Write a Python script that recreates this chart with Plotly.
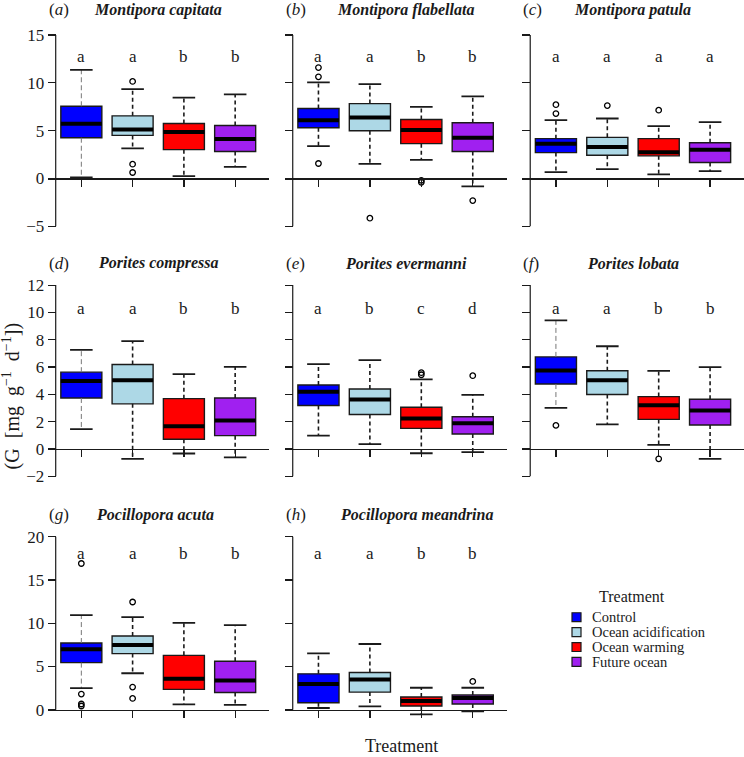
import plotly.graph_objects as go

# ---------------- data ----------------
treatments = ["Control", "Ocean acidification", "Ocean warming", "Future ocean"]
colors = ["#0000FF", "#ADD8E6", "#FF0000", "#A020F0"]
panel_tags = ["a", "b", "c", "d", "e", "f", "g", "h"]
species = ["Montipora capitata", "Montipora flabellata", "Montipora patula",
           "Porites compressa", "Porites evermanni", "Porites lobata",
           "Pocillopora acuta", "Pocillopora meandrina"]

lower_whisker = [[0.10, 3.15, 0.24, 1.21], [3.39, 1.52, 1.94, -0.83], [0.66, 0.97, 0.42, 0.76],
                 [1.45, -0.73, -0.34, -0.63], [0.97, 0.34, -0.32, -0.24], [3.01, 1.79, 0.29, -0.73],
                 [2.49, 4.21, 0.61, 0.54], [0.19, 0.38, -0.54, -0.19]]
q1 = [[4.26, 4.50, 3.01, 2.81], [5.30, 4.99, 3.64, 2.81], [2.70, 2.42, 2.36, 1.66],
      [3.73, 3.30, 0.70, 0.97], [3.18, 2.52, 1.50, 1.09], [4.75, 3.98, 2.16, 1.75],
      [5.44, 6.48, 2.34, 1.99], [0.80, 2.03, 0.42, 0.65]]
median = [[5.72, 5.13, 4.85, 4.12], [6.10, 6.37, 5.06, 4.26], [3.64, 3.29, 2.74, 3.01],
          [4.97, 5.02, 1.65, 2.08], [4.19, 3.61, 2.23, 1.87], [5.75, 5.02, 3.20, 2.81],
          [6.97, 7.47, 3.56, 3.37], [2.95, 3.49, 1.00, 1.34]]
q3 = [[7.55, 6.55, 5.75, 5.54], [7.31, 7.83, 6.17, 5.82], [4.16, 4.30, 4.16, 3.74],
      [5.62, 6.18, 3.68, 3.73], [4.68, 4.39, 3.05, 2.35], [6.74, 5.72, 3.83, 3.64],
      [7.70, 8.51, 6.28, 5.59], [4.14, 4.29, 1.46, 1.69]]
upper_whisker = [[11.36, 9.35, 8.45, 8.80], [10.05, 9.87, 7.48, 8.59], [6.10, 6.27, 5.47, 5.89],
                 [7.25, 7.90, 5.48, 6.01], [6.21, 6.50, 5.09, 3.95], [9.41, 7.52, 5.72, 5.99],
                 [10.92, 10.69, 10.04, 9.77], [6.51, 7.59, 2.53, 2.53]]
outliers = [[[], [10.15, 1.49, 0.62], [], []],
            [[11.6, 10.63, 1.56], [-4.16], [-0.2, -0.4], [-2.32]],
            [[7.72, 6.79], [7.62], [7.14], []],
            [[], [], [], []],
            [[], [], [5.58, 5.43], [5.36]],
            [[1.72], [], [-0.73], []],
            [[16.9, 1.80, 0.65, 0.42], [12.45, 2.61, 1.30], [], []],
            [[], [], [], [3.26]]]
letters = [["a", "a", "b", "b"], ["a", "a", "b", "b"], ["a", "a", "a", "a"],
           ["a", "a", "b", "b"], ["a", "b", "c", "d"], ["a", "a", "b", "b"],
           ["a", "a", "b", "b"], ["a", "a", "b", "b"]]
row_ticks = [[-5, 0, 5, 10, 15], [-2, 0, 2, 4, 6, 8, 10, 12], [0, 5, 10, 15, 20]]
letter_y = [12.75, 10.3, 18.1]
thin_control = [True, False, False, True, False, True, True, False]

# ---------------- layout geometry (pixels) ----------------
W, H = 744, 757
col_left = [47.5, 284.5, 522.0]
col_right = [269.0, 506.7, 744.0]
row_top = [25.6, 277.3, 531.3]
row_bot = [233.4, 485.0, 719.3]
title_cx = [157.5, 406, 632.7, 158, 406, 633, 155.3, 417]
title_cy = [8, 263, 516]
FONT = "Liberation Serif, Times New Roman, serif"
INK = "#1a1a1a"

xr = [0.5 - 0.04 * 4, 4.5 + 0.04 * 4]

fig = go.Figure()
shapes = []
annotations = []

for p in range(8):
    r, c = divmod(p, 3)
    idx = "" if p == 0 else str(p + 1)
    xa, ya = "x" + idx, "y" + idx
    ticks = row_ticks[r]
    lo, hi = ticks[0], ticks[-1]
    yr = [lo - 0.04 * (hi - lo), hi + 0.04 * (hi - lo)]
    xd = [col_left[c] / W, col_right[c] / W]
    yd = [1 - row_bot[r] / H, 1 - row_top[r] / H]
    ypos_x = xd[0] + (0.5 - xr[0]) / (xr[1] - xr[0]) * (xd[1] - xd[0])
    xpos_y = yd[0] + (0 - yr[0]) / (yr[1] - yr[0]) * (yd[1] - yd[0])

    fig.layout["xaxis" + idx] = dict(
        domain=xd, range=xr, anchor="free", position=xpos_y,
        showline=True, linecolor=INK, linewidth=1.2,
        tickvals=[1, 2, 3, 4], ticks="outside", ticklen=7, tickwidth=1.3,
        tickcolor=INK, showticklabels=False, showgrid=False, zeroline=False,
        fixedrange=True)
    fig.layout["yaxis" + idx] = dict(
        domain=yd, range=yr, anchor="free", position=ypos_x,
        showline=False, tickvals=ticks, ticktext=[str(t).replace("-", "\u2212") for t in ticks],
        ticks="outside", ticklen=8, tickwidth=1.2, tickcolor=INK,
        showticklabels=(c == 0), tickfont=dict(family=FONT, size=17, color=INK),
        showgrid=False, zeroline=False, fixedrange=True)
    shapes.append(dict(type="line", xref="paper", yref=ya, x0=ypos_x, x1=ypos_x,
                       y0=lo, y1=hi, line=dict(color=INK, width=1.2)))

    wx, wy, cx, cy = [], [], [], []
    tx, ty = [], []
    mx, my, ox, oy = [], [], [], []
    for i in range(4):
        xc = i + 1
        fig.add_trace(go.Box(
            x=[xc], q1=[q1[p][i]], median=[median[p][i]], q3=[q3[p][i]],
            lowerfence=[q1[p][i]], upperfence=[q3[p][i]], width=0.8,
            fillcolor=colors[i], line=dict(color=INK, width=1.4),
            boxpoints=False, hoverinfo="skip", showlegend=False,
            xaxis=xa, yaxis=ya))
        seg_x = [xc, xc, None, xc, xc, None]
        seg_y = [q3[p][i], upper_whisker[p][i], None, q1[p][i], lower_whisker[p][i], None]
        if i == 0 and thin_control[p]:
            tx += seg_x
            ty += seg_y
        else:
            wx += seg_x
            wy += seg_y
        cx += [xc - 0.22, xc + 0.22, None, xc - 0.22, xc + 0.22, None]
        cy += [upper_whisker[p][i]] * 2 + [None] + [lower_whisker[p][i]] * 2 + [None]
        mx += [xc - 0.4, xc + 0.4, None]
        my += [median[p][i]] * 2 + [None]
        for v in outliers[p][i]:
            ox.append(xc)
            oy.append(v)
        annotations.append(dict(xref=xa, yref=ya, x=xc, y=letter_y[r], text=letters[p][i],
                                showarrow=False, font=dict(family=FONT, size=17, color=INK)))
    fig.add_trace(go.Scatter(x=wx, y=wy, mode="lines", line=dict(color=INK, width=1.6, dash="4px,3px"),
                             hoverinfo="skip", showlegend=False, xaxis=xa, yaxis=ya))
    if tx:
        fig.add_trace(go.Scatter(x=tx, y=ty, mode="lines", line=dict(color="#777777", width=1.0, dash="5px,3px"),
                                 hoverinfo="skip", showlegend=False, xaxis=xa, yaxis=ya))
    fig.add_trace(go.Scatter(x=cx, y=cy, mode="lines", line=dict(color=INK, width=1.8),
                             hoverinfo="skip", showlegend=False, xaxis=xa, yaxis=ya))
    fig.add_trace(go.Scatter(x=mx, y=my, mode="lines", line=dict(color="black", width=4),
                             hoverinfo="skip", showlegend=False, xaxis=xa, yaxis=ya))
    if ox:
        fig.add_trace(go.Scatter(x=ox, y=oy, mode="markers",
                                 marker=dict(symbol="circle-open", size=5.5, color="black",
                                             line=dict(width=1.3, color="black")),
                                 hoverinfo="skip", showlegend=False, xaxis=xa, yaxis=ya))

    # titles
    annotations.append(dict(xref="paper", yref="paper", x=(col_left[c] - 1) / W,
                            y=1 - title_cy[r] / H, xanchor="left", yanchor="middle",
                            text="(<i>%s</i>)" % panel_tags[p], showarrow=False,
                            font=dict(family=FONT, size=17, color=INK)))
    annotations.append(dict(xref="paper", yref="paper", x=title_cx[p] / W,
                            y=1 - title_cy[r] / H, xanchor="center", yanchor="middle",
                            text="<b><i>%s</i></b>" % species[p], showarrow=False,
                            font=dict(family=FONT, size=16, color=INK)))

# axis titles
annotations.append(dict(xref="paper", yref="paper", x=11 / W, y=1 - 397 / H, textangle=-90,
                        text="(G \u00a0[mg \u00a0g<sup>\u22121</sup> \u00a0d<sup>\u22121</sup>])",
                        showarrow=False, xanchor="center", yanchor="middle",
                        font=dict(family=FONT, size=20, color=INK)))
annotations.append(dict(xref="paper", yref="paper", x=401 / W, y=1 - 749 / H,
                        text="Treatment", showarrow=False, xanchor="center", yanchor="middle",
                        font=dict(family=FONT, size=18, color=INK)))

# legend (manual)
annotations.append(dict(xref="paper", yref="paper", x=632 / W, y=1 - 598 / H,
                        text="Treatment", showarrow=False, xanchor="center", yanchor="middle",
                        font=dict(family=FONT, size=16, color=INK)))
leg_y = [619.3, 634.3, 649.3, 664.3]
for i, t in enumerate(treatments):
    shapes.append(dict(type="rect", xref="paper", yref="paper",
                       x0=572 / W, x1=581 / W, y0=1 - (leg_y[i] + 4.5) / H, y1=1 - (leg_y[i] - 4.5) / H,
                       fillcolor=colors[i], line=dict(color=INK, width=1.2)))
    annotations.append(dict(xref="paper", yref="paper", x=590 / W, y=1 - leg_y[i] / H,
                            text=t, showarrow=False, xanchor="left", yanchor="middle",
                            font=dict(family=FONT, size=14.5, color=INK)))

fig.update_layout(width=W, height=H, margin=dict(l=0, r=0, t=0, b=0),
                  paper_bgcolor="white", plot_bgcolor="white", showlegend=False,
                  boxmode="overlay", shapes=shapes, annotations=annotations)
fig.write_html("out.html", config={"displayModeBar": False, "staticPlot": True},
               post_script="document.body.style.margin='0';document.body.style.padding='0';"
                           "document.documentElement.style.overflow='hidden';")
